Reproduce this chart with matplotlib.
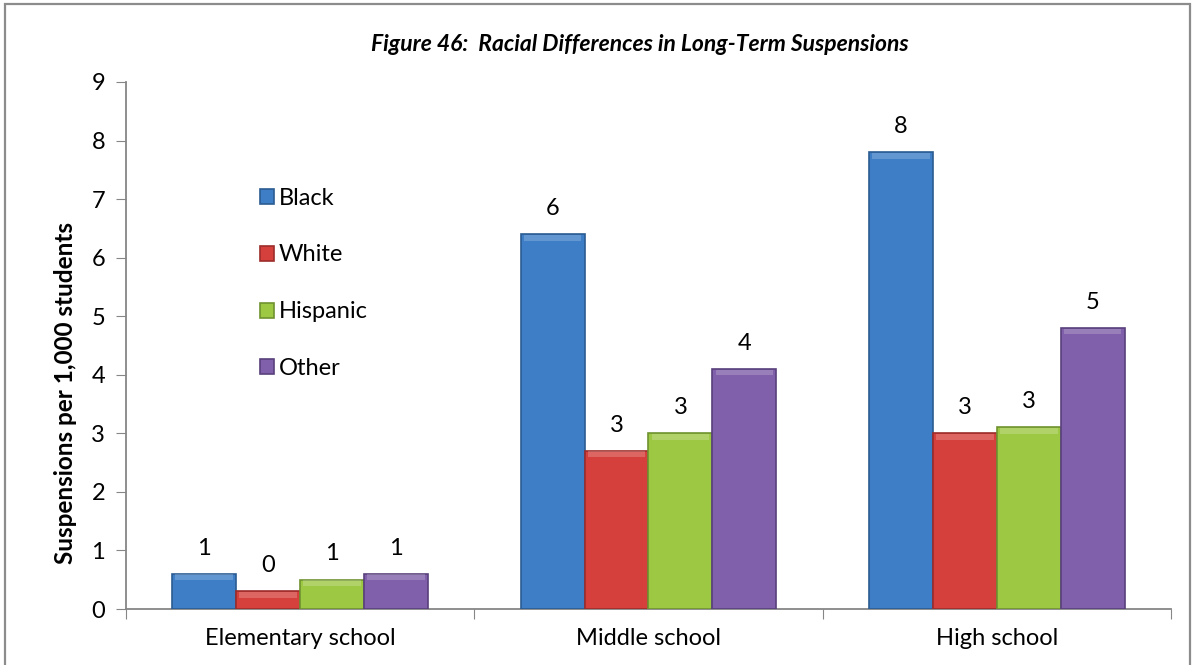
import numpy as np
import matplotlib
matplotlib.use("Agg")
import matplotlib.pyplot as plt
from matplotlib.patches import Rectangle

plt.rcParams['font.family'] = ['Lato', 'DejaVu Sans']

# suspensions per 1,000 students, by school level and race
schools = ['Elementary school', 'Middle school', 'High school']
races = ['Black', 'White', 'Hispanic', 'Other']
black = [0.6, 6.4, 7.8]
white = [0.3, 2.7, 3.0]
hispanic = [0.5, 3.0, 3.1]
other = [0.6, 4.1, 4.8]
yticks = list(range(0, 10))

fills = ['#3D7EC6', '#D5403D', '#9DC843', '#8060AA']
edges = ['#2B5C92', '#9C2C2A', '#6F9230', '#59407C']


def round_half_up(v):
    return int(np.floor(v + 0.5))


fig = plt.figure(figsize=(11.94, 6.65), dpi=100)
ax = fig.add_axes([0.1055, 0.0842, 0.8752, 0.7925])

x = np.arange(len(schools))
w = 0.1836
series = [black, white, hispanic, other]
for i, (vals, name) in enumerate(zip(series, races)):
    pos = x + (i - 1.5) * w
    bars = ax.bar(pos, vals, width=w, color=fills[i], edgecolor=edges[i],
                  linewidth=1.2, label=name, zorder=3)
    # light bevel along the top of each bar
    ax.bar(pos, 0.1, bottom=np.array(vals) - 0.11, width=w * 0.9,
           color='white', alpha=0.2, linewidth=0, zorder=4)
    for b, v in zip(bars, vals):
        ax.annotate('%d' % round_half_up(v), (b.get_x() + b.get_width() / 2, v),
                    xytext=(0, 11), textcoords='offset points',
                    ha='center', va='bottom', fontsize=17)

ax.set_xlim(-0.5, 2.5)
ax.set_ylim(0, 9)
ax.set_yticks(yticks)
ax.tick_params(axis='y', labelsize=17, length=7, color='#868686', pad=8)

# category labels in the middle, tick marks on the group boundaries
ax.set_xticks(np.arange(-0.5, 3, 1))
ax.set_xticklabels([])
ax.set_xticks(x, minor=True)
ax.set_xticklabels(schools, minor=True, fontsize=17)
ax.tick_params(axis='x', which='major', length=7, color='#868686')
ax.tick_params(axis='x', which='minor', length=0, pad=14)

for s in ['top', 'right']:
    ax.spines[s].set_visible(False)
for s in ['left', 'bottom']:
    ax.spines[s].set_color('#868686')
    ax.spines[s].set_linewidth(1.3)

fig.text(0.055, 0.409, 'Suspensions per 1,000 students', rotation=90,
         ha='center', va='center', fontsize=17.5, fontweight='bold')
fig.text(0.536, 0.933, 'Figure 46:  Racial Differences in Long-Term Suspensions',
         ha='center', va='center', fontsize=16.5, fontweight='bold',
         fontstyle='italic')

leg = ax.legend(loc='upper left', bbox_to_anchor=(0.108, 0.84), frameon=False,
                fontsize=17, handlelength=0.6, handleheight=0.6,
                handletextpad=0.2, labelspacing=1.52)

# outer frame around the chart
fig.patches.append(Rectangle((5 / 1194, -0.1), 1185 / 1194, 1.1 - 4 / 665,
                             transform=fig.transFigure, fill=False,
                             edgecolor='#8C8C8C', linewidth=1.6))

fig.savefig('out.png', dpi=100)
